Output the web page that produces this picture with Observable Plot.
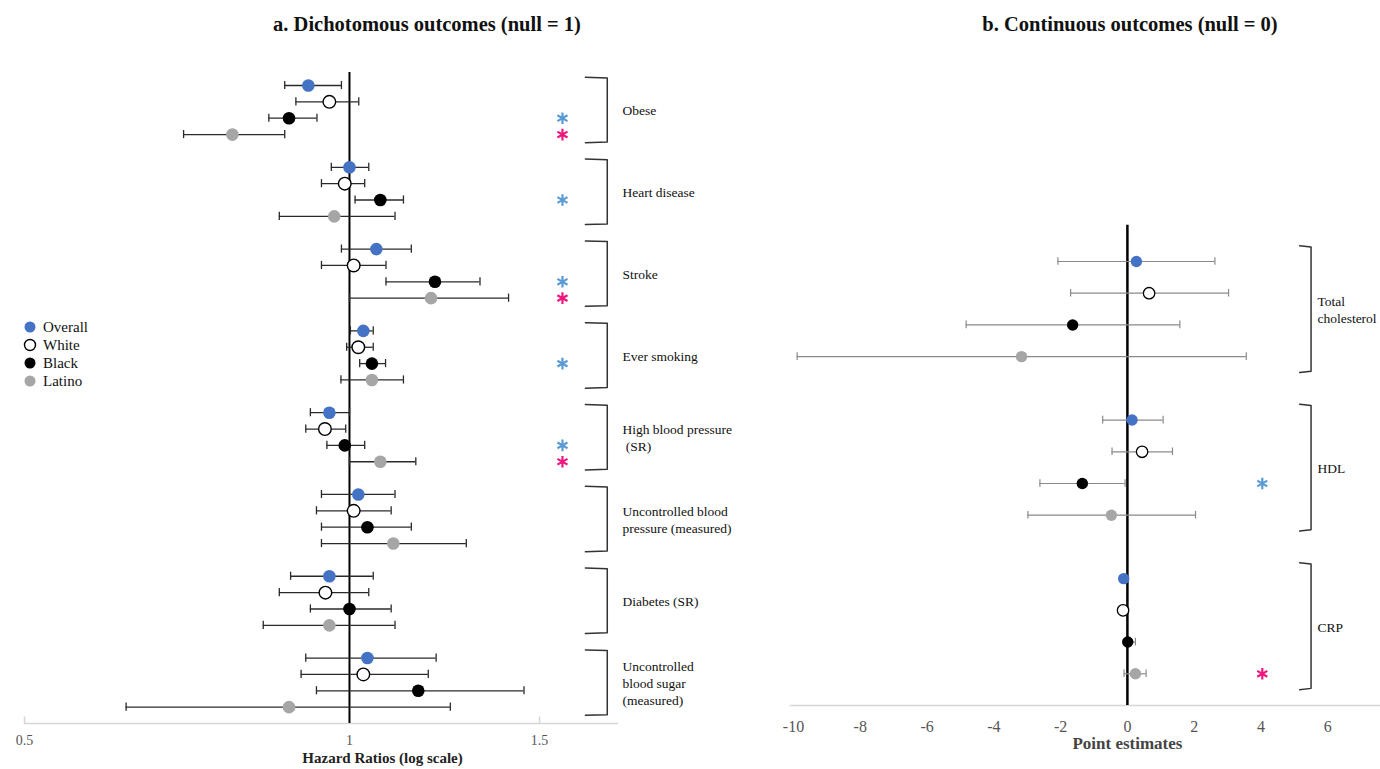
<!DOCTYPE html>
<html><head><meta charset="utf-8">
<script src="https://cdn.jsdelivr.net/npm/d3@7"></script>
<script src="https://cdn.jsdelivr.net/npm/@observablehq/plot@0.6"></script>
<style>
body{margin:0;background:#fff;font-family:"Liberation Serif","Times New Roman",serif;}
#wrap{position:relative;width:1380px;height:769px;overflow:hidden;background:#fff;}
.title{position:absolute;top:13px;font-weight:bold;font-size:20.5px;color:#111;transform:translateX(-50%);white-space:nowrap;font-family:"Liberation Serif",serif;}
#left{position:absolute;left:0;top:0;}
#right{position:absolute;left:760px;top:0;}
#legend{position:absolute;left:23px;top:318px;font-size:15px;color:#111;line-height:18px;font-family:"Liberation Serif",serif;}
#legend div{display:flex;align-items:center;height:18px;}
#legend svg{margin-right:6px;}
</style></head>
<body>
<div id="wrap">
  <div class="title" style="left:427px">a. Dichotomous outcomes (null = 1)</div>
  <div class="title" style="left:1130px">b. Continuous outcomes (null = 0)</div>
  <div id="left"></div>
  <div id="right"></div>
  <div id="legend"></div>
</div>
<script>
// ---------- data ----------
const series = ["Overall", "White", "Black", "Latino"];
const seriesFill = ["#4472c4", "#ffffff", "#000000", "#a6a6a6"];
const seriesStroke = ["none", "#000000", "none", "none"];

// a. Dichotomous outcomes (hazard ratios)
const dichOutcomes = ["Obese", "Heart disease", "Stroke", "Ever smoking",
  "High blood pressure\n\u00a0(SR)", "Uncontrolled blood\npressure (measured)",
  "Diabetes (SR)", "Uncontrolled\nblood sugar\n(measured)"];
const dichEst = [
  [0.916, 0.958, 0.879, 0.779],
  [1.000, 0.990, 1.068, 0.968],
  [1.059, 1.009, 1.200, 1.190],
  [1.030, 1.019, 1.049, 1.049],
  [0.958, 0.949, 0.990, 1.068],
  [1.019, 1.009, 1.039, 1.098],
  [0.958, 0.950, 1.000, 0.958],
  [1.039, 1.030, 1.158, 0.879]
];
const dichLo = [
  [0.871, 0.892, 0.842, 0.702],
  [0.962, 0.942, 1.012, 0.861],
  [0.983, 0.942, 1.081, 1.000],
  [1.002, 0.994, 1.022, 0.982],
  [0.920, 0.911, 0.953, 1.000],
  [0.942, 0.932, 0.942, 0.942],
  [0.882, 0.861, 0.920, 0.832],
  [0.911, 0.902, 0.932, 0.621]
];
const dichHi = [
  [0.983, 1.020, 0.933, 0.871],
  [1.042, 1.033, 1.122, 1.102],
  [1.141, 1.081, 1.321, 1.404],
  [1.052, 1.052, 1.080, 1.122],
  [1.000, 0.992, 1.033, 1.152],
  [1.102, 1.093, 1.141, 1.283],
  [1.052, 1.042, 1.093, 1.102],
  [1.203, 1.183, 1.451, 1.240]
];
const dichSigBlack  = [true, true, true, true, true, false, false, false];
const dichSigLatino = [true, false, true, false, true, false, false, false];
const dichTicks = [0.5, 1, 1.5];

// b. Continuous outcomes (point estimates)
const contOutcomes = ["Total\ncholesterol", "HDL", "CRP"];
const contEst = [
  [0.27, 0.65, -1.64, -3.17],
  [0.14, 0.44, -1.35, -0.48],
  [-0.11, -0.13, 0.01, 0.24]
];
const contLo = [
  [-2.08, -1.70, -4.83, -9.89],
  [-0.74, -0.46, -2.62, -2.98],
  [-0.16, -0.17, -0.07, -0.10]
];
const contHi = [
  [2.62, 3.03, 1.57, 3.56],
  [1.07, 1.35, -0.07, 2.04],
  [-0.06, -0.09, 0.24, 0.56]
];
const contSigBlack  = [false, true, false];
const contSigLatino = [false, false, true];
const contTicks = [-10, -8, -6, -4, -2, 0, 2, 4, 6];

// ---------- helpers ----------
const SERIF = "Liberation Serif, Times New Roman, serif";
const PER = 5; // rows per group (4 series + gap)
function buildRows(outcomes, est, lo, hi) {
  const rows = [];
  outcomes.forEach((o, g) => series.forEach((s, k) => rows.push({
    outcome: o, series: s, k, row: g * PER + k, est: est[g][k], lo: lo[g][k], hi: hi[g][k]
  })));
  return rows;
}
function buildSig(outcomes, sigB, sigL) {
  const out = [];
  outcomes.forEach((o, g) => {
    if (sigB[g]) out.push({row: g * PER + 2, color: "#5b9bd5"});
    if (sigL[g]) out.push({row: g * PER + 3, color: "#f0157f"});
  });
  return out;
}
function buildBrackets(outcomes, xIn, xOut, pad) {
  const pts = [];
  outcomes.forEach((o, g) => {
    const t = g * PER - pad, b = g * PER + 3 + pad;
    pts.push({g, x: xIn, y: t}, {g, x: xOut, y: t + 0.04}, {g, x: xOut, y: b - 0.04}, {g, x: xIn, y: b});
  });
  return pts;
}
const groupsOf = outcomes => outcomes.map((o, g) => ({label: o, row: g * PER + 1.5}));

// ---------- left chart ----------
const rowsL = buildRows(dichOutcomes, dichEst, dichLo, dichHi);
const nRowsL = dichOutcomes.length * PER - 1; // axis row
const left = Plot.plot({
  width: 760, height: 769,
  marginLeft: 24, marginRight: 142, marginTop: 85, marginBottom: 46,
  style: {fontFamily: SERIF, background: "transparent"},
  x: {type: "log", domain: [0.5, 1.775]},
  y: {domain: [0, nRowsL], reverse: true, axis: null},
  color: {type: "identity"},
  marks: [
    Plot.ruleY([nRowsL], {x1: 0.5, x2: 1.775, stroke: "#d6d6d6", strokeWidth: 1.5}),
    Plot.ruleX([0.5, 1.5], {y1: nRowsL - 0.4, y2: nRowsL, stroke: "#d6d6d6", strokeWidth: 1.5}),
    Plot.axisX({ticks: dichTicks, tickFormat: d => String(d), tickSize: 0, tickPadding: 12,
      fontSize: 14, fontFamily: SERIF, color: "#555", label: null}),
    Plot.text(["Hazard Ratios (log scale)"], {frameAnchor: "bottom", dx: 61, dy: 39,
      fontSize: 15, fontWeight: "bold", fontFamily: SERIF, fill: "#222"}),
    Plot.ruleX([1], {y1: -0.8, y2: nRowsL, stroke: "#000", strokeWidth: 2}),
    Plot.ruleY(rowsL, {y: "row", x1: "lo", x2: "hi", stroke: "#2a2a2a", strokeWidth: 1.3}),
    Plot.ruleX(rowsL, {x: "lo", y1: d => d.row - 0.25, y2: d => d.row + 0.25, stroke: "#2a2a2a", strokeWidth: 1.3}),
    Plot.ruleX(rowsL, {x: "hi", y1: d => d.row - 0.25, y2: d => d.row + 0.25, stroke: "#2a2a2a", strokeWidth: 1.3}),
    Plot.dot(rowsL, {x: "est", y: "row", r: 6.3, fill: d => seriesFill[d.k], stroke: d => seriesStroke[d.k], strokeWidth: 1.4}),
    Plot.dot(buildSig(dichOutcomes, dichSigBlack, dichSigLatino), {x: 1.575, y: "row", symbol: "asterisk",
      r: 5.5, stroke: "color", strokeWidth: 2.2}),
    Plot.line(buildBrackets(dichOutcomes, 1.654, 1.733, 0.5), {x: "x", y: "y", z: "g",
      stroke: "#333", strokeWidth: 1.5, strokeLinejoin: "round"}),
    Plot.text(groupsOf(dichOutcomes), {x: 1.79, y: "row", text: "label", textAnchor: "start",
      fontSize: 13.5, fontFamily: SERIF, lineHeight: 1.25, fill: "#111"})
  ]
});
document.getElementById("left").append(left);

// ---------- right chart ----------
const rowsR = buildRows(contOutcomes, contEst, contLo, contHi);
const nRowsR = contOutcomes.length * PER - 1;
const right = Plot.plot({
  width: 620, height: 769,
  marginLeft: 33, marginRight: 0, marginTop: 261, marginBottom: 64,
  style: {fontFamily: SERIF, background: "transparent"},
  x: {domain: [-10, 7.58]},
  y: {domain: [0, nRowsR], reverse: true, axis: null},
  color: {type: "identity"},
  marks: [
    Plot.ruleY([nRowsR], {x1: -10.1, x2: 7.58, stroke: "#d6d6d6", strokeWidth: 1.5}),
    Plot.axisX({ticks: contTicks, tickFormat: d => String(d), tickSize: 0, tickPadding: 15,
      fontSize: 16, fontFamily: SERIF, color: "#555", label: null}),
    Plot.text(["Point estimates"], {x: 0, frameAnchor: "bottom", dy: 43,
      fontSize: 17, fontWeight: "bold", fontFamily: SERIF, fill: "#444"}),
    Plot.ruleX([0], {y1: -1.14, y2: nRowsR, stroke: "#000", strokeWidth: 2.5}),
    Plot.ruleY(rowsR, {y: "row", x1: "lo", x2: "hi", stroke: "#8a8a8a", strokeWidth: 1.2}),
    Plot.ruleX(rowsR, {x: "lo", y1: d => d.row - 0.12, y2: d => d.row + 0.12, stroke: "#8a8a8a", strokeWidth: 1.2}),
    Plot.ruleX(rowsR, {x: "hi", y1: d => d.row - 0.12, y2: d => d.row + 0.12, stroke: "#8a8a8a", strokeWidth: 1.2}),
    Plot.dot(rowsR, {x: "est", y: "row", r: 5.7, fill: d => seriesFill[d.k], stroke: d => seriesStroke[d.k], strokeWidth: 1.3}),
    Plot.dot(buildSig(contOutcomes, contSigBlack, contSigLatino), {x: 4.04, y: "row", symbol: "asterisk",
      r: 5.5, stroke: "color", strokeWidth: 2.2}),
    Plot.line(buildBrackets(contOutcomes, 5.16, 5.5, 0.5), {x: "x", y: "y", z: "g",
      stroke: "#333", strokeWidth: 1.5, strokeLinejoin: "round"}),
    Plot.text(groupsOf(contOutcomes), {x: 5.69, y: "row", text: "label", textAnchor: "start",
      fontSize: 13.5, fontFamily: SERIF, lineHeight: 1.25, fill: "#111"})
  ]
});
document.getElementById("right").append(right);

// ---------- legend ----------
const legend = document.getElementById("legend");
series.forEach((s, k) => {
  const row = document.createElement("div");
  row.innerHTML = `<svg width="14" height="14"><circle cx="7" cy="7" r="5.5" fill="${seriesFill[k]}" stroke="${seriesStroke[k]}" stroke-width="1.4"/></svg><span>${s}</span>`;
  legend.append(row);
});
</script>
</body></html>
